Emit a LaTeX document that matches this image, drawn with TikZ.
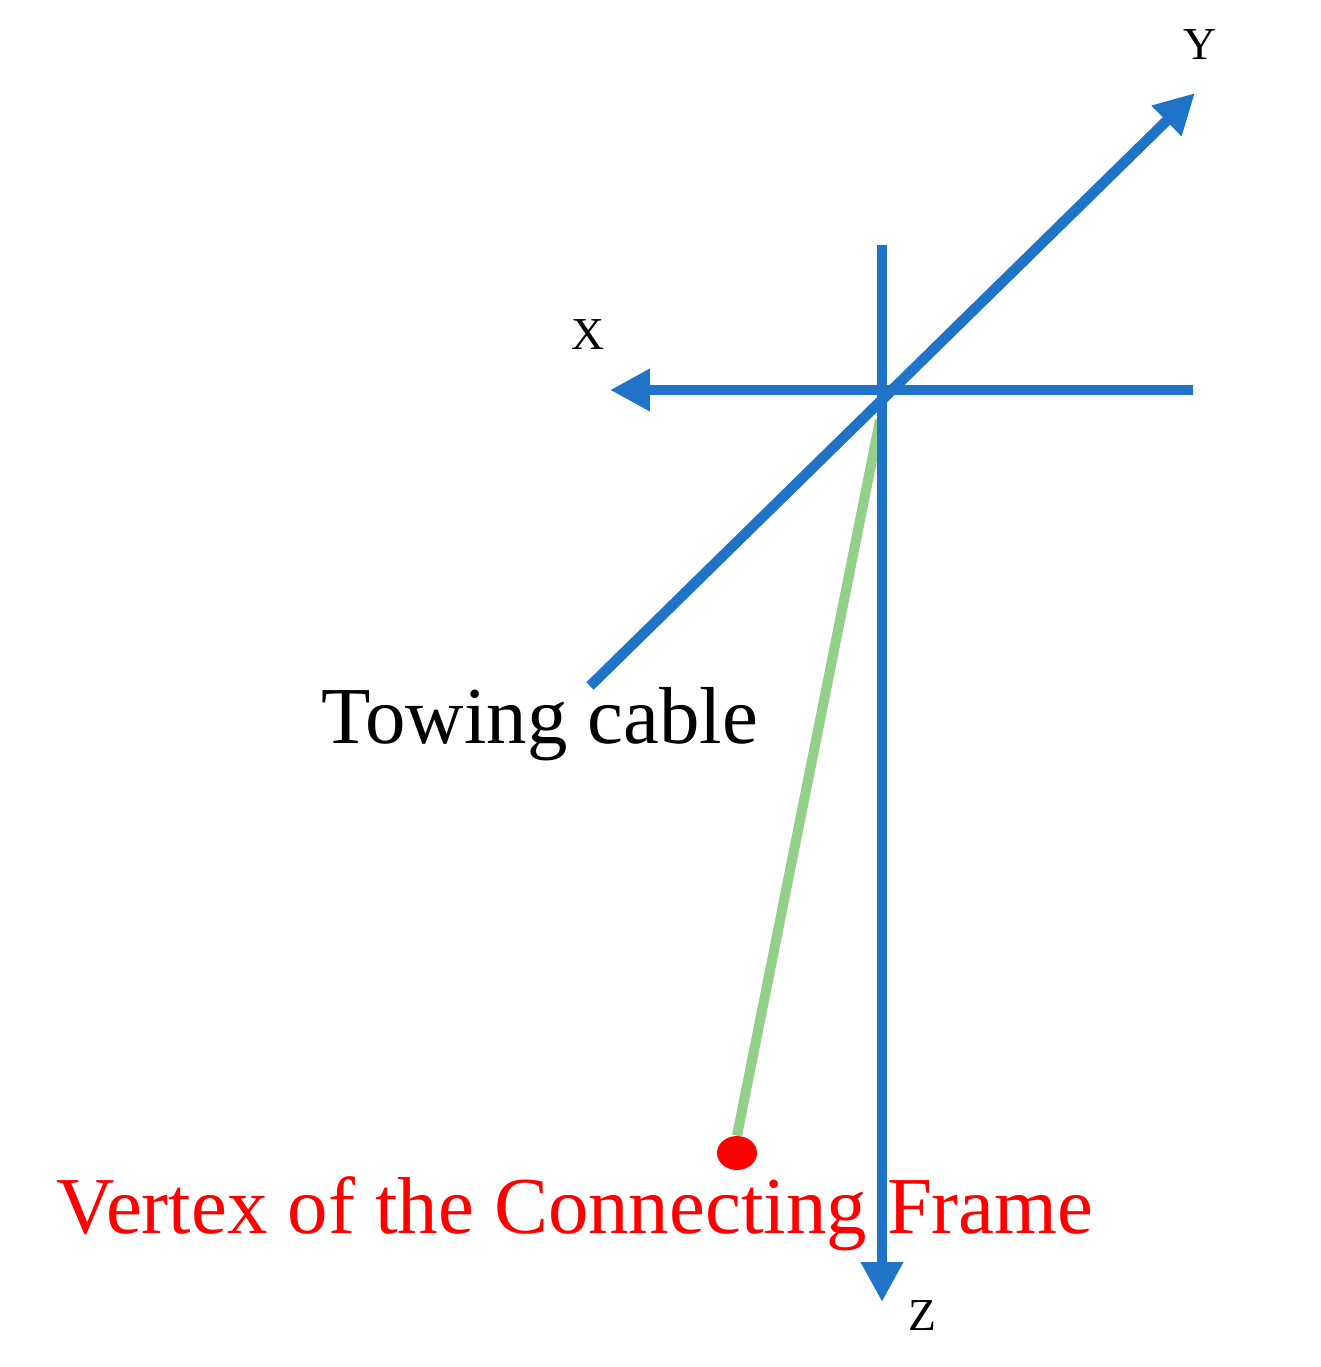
\documentclass[tikz,border=0pt]{standalone}
\usepackage{fontspec}
\setmainfont{Liberation Serif}
\usetikzlibrary{arrows.meta,shapes.geometric}
\definecolor{axb}{HTML}{1F74C8}
\definecolor{cab}{HTML}{93D18B}
\begin{document}
\begin{tikzpicture}[x=0.02cm,y=-0.02cm,
  ax/.style={draw=axb,line width=0.21cm,-{Triangle[length=0.8cm,width=0.8cm]}},
  lab/.style={font=\fontsize{26}{30}\selectfont,inner sep=0},
  big/.style={font=\fontsize{46}{52}\selectfont,inner sep=0}]
\useasboundingbox (0,0) rectangle (1320,1367);
\coordinate (zs) at (882,245); \coordinate (zt) at (882,1302);
\coordinate (xs) at (1193,390); \coordinate (xt) at (610,390);
\coordinate (ys) at (590,686); \coordinate (yt) at (1195,93);
\coordinate (c1) at (880,420);
\node[fill=red,ellipse,minimum width=0.8cm,minimum height=0.68cm,inner sep=0] (v) at (737,1153) {};
\draw[cab,line width=0.2cm] (c1) -- (v.north);
\draw[ax] (zs) -- (zt);
\draw[ax] (xs) -- (xt);
\draw[ax] (ys) -- (yt);
\node[lab] (ly) at (1200,45) {Y};
\node[lab] (lx) at (588,335) {X};
\node[lab] (lz) at (922,1316) {Z};
\node[big] (tc) at (540,724) {Towing cable};
\node[big,text=red] (vt) at (575,1214) {Vertex of the Connecting Frame};
\end{tikzpicture}
\end{document}
